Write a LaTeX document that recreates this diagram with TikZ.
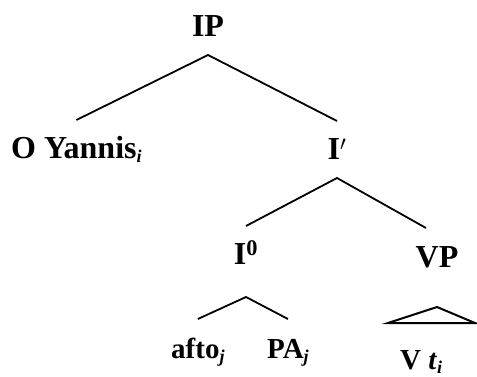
\documentclass[tikz,border=0pt]{standalone}
\usepackage{fontspec}
\setmainfont{Liberation Serif}
% italic index written low after a label
\newcommand\idx[1]{\raisebox{-4pt}{\fontsize{18}{18}\selectfont\itshape #1}}
\begin{document}
\begin{tikzpicture}[x=1pt,y=-1pt,
  lbl/.style={font=\fontsize{32}{32}\selectfont\bfseries, inner sep=0pt,
    text height=21pt, text depth=0pt, outer ysep=18pt, anchor=base},
  leaf/.style={lbl, font=\fontsize{29}{29}\selectfont\bfseries, anchor=base west},
  br/.style={line width=1.8pt, line join=miter}]
\useasboundingbox (0,0) rectangle (477,377);

% category labels
\node[lbl] (IP) at (208,37) {IP};
\node[lbl, anchor=base west] (Yannis) at (11,159) {O Yannis\idx{i}};
\node[lbl] (Ibar) at (337,160) {I$'$};
\node[lbl] (I0) at (246,265) {I\textsuperscript{0}};
\node[lbl] (VP) at (437,267) {VP};

% terminals
\node[leaf] (afto) at (171,358) {afto\idx{j}};
\node[leaf] (PA) at (267,358) {PA\idx{j}};
\node[leaf] (Vt) at (400,369) {V \textit{t}\idx{i}};

% branches
\draw[br] (Yannis.north) -- (IP.south) -- (Ibar.north);
\draw[br] (I0.north) -- (Ibar.south) -- ([xshift=-11pt]VP.north);
\draw[br] (afto.north) -- ([yshift=-14pt]I0.south) -- (PA.north);

% collapsed VP
\coordinate (tri) at ([yshift=-22pt]VP.south);
\draw[br, line width=2pt] ([xshift=-49pt,yshift=-16pt]tri) -- (tri)
  -- ([xshift=38pt,yshift=-16pt]tri) -- cycle;
\end{tikzpicture}
\end{document}
